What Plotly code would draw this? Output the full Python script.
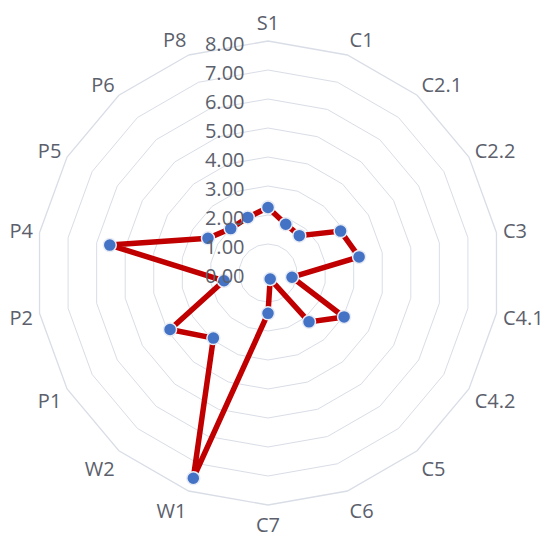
import plotly.graph_objects as go

categories = ["S1", "C1", "C2.1", "C2.2", "C3", "C4.1", "C4.2", "C5", "C6", "C7",
              "W1", "W2", "P1", "P2", "P4", "P5", "P6", "P8"]
values = [2.26, 1.79, 1.68, 2.89, 3.19, 0.84, 3.03, 2.20, 0.22, 1.39,
          7.53, 2.93, 3.90, 1.54, 5.54, 2.39, 2.00, 2.04]
radial_ticks = [0, 1, 2, 3, 4, 5, 6, 7, 8]

FONT = "Open Sans"
TXT = "#5b606c"
GRID = "#d9dde6"

fig = go.Figure()
fig.add_trace(go.Scatterpolar(
    r=values + values[:1],
    theta=categories + categories[:1],
    mode="lines+markers",
    line=dict(color="#c00000", width=5.5),
    marker=dict(color="#4472c4", size=13, line=dict(color="#e8ecf5", width=1.5)),
    showlegend=False,
))

fig.update_layout(
    width=550, height=542,
    margin=dict(l=28, r=58, t=33, b=45),
    paper_bgcolor="white",
    font=dict(family=FONT, color=TXT, size=20),
    polar=dict(
        domain=dict(x=[0, 1], y=[0, 1]),
        bgcolor="white",
        gridshape="linear",
        radialaxis=dict(
            range=[0, 8],
            tickvals=radial_ticks,
            tickformat=".2f",
            angle=90,
            side="counterclockwise",
            showline=False,
            ticks="outside",
            ticklen=5,
            tickcolor="rgba(0,0,0,0)",
            gridcolor=GRID,
            gridwidth=1.3,
            tickfont=dict(family=FONT, size=20, color=TXT),
            layer="above traces",
        ),
        angularaxis=dict(
            direction="clockwise",
            rotation=90,
            showgrid=False,
            showline=True,
            linecolor=GRID,
            linewidth=1.3,
            ticks="outside",
            ticklen=2,
            tickcolor="rgba(0,0,0,0)",
            tickfont=dict(family=FONT, size=20, color=TXT),
        ),
    ),
)

fig.write_html("out.html")
